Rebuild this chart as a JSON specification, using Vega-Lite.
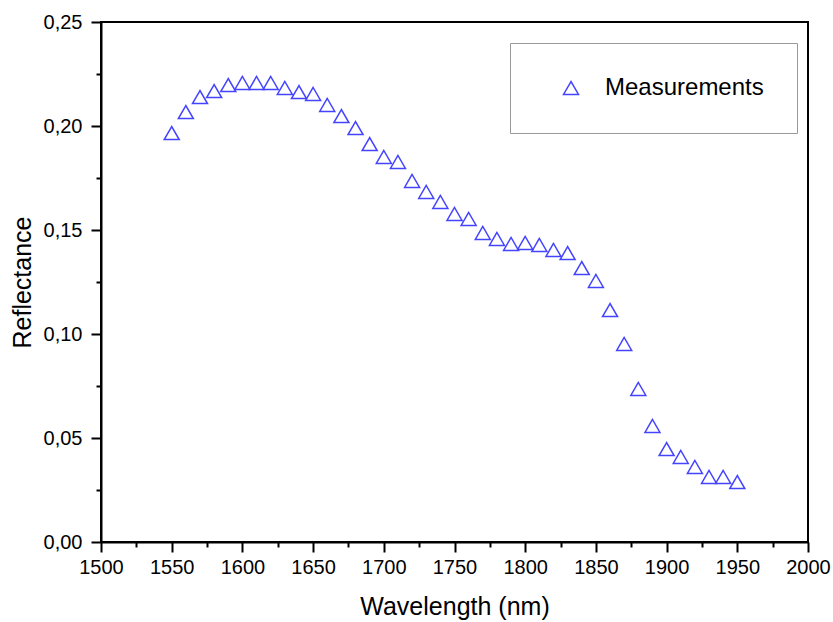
{
  "$schema": "https://vega.github.io/schema/vega-lite/v6.json",
  "width": 707,
  "height": 520,
  "autosize": {"type": "none"},
  "padding": {"left": 101, "top": 22, "right": 25, "bottom": 80},
  "background": "white",
  "config": {
    "font": "Liberation Sans",
    "view": {"stroke": "black", "strokeWidth": 2},
    "axis": {"grid": false}
  },
  "data": {
    "values": [
      {"wavelength": 1550, "reflectance": 0.1966, "series": "Measurements"},
      {"wavelength": 1560, "reflectance": 0.2067, "series": "Measurements"},
      {"wavelength": 1570, "reflectance": 0.2139, "series": "Measurements"},
      {"wavelength": 1580, "reflectance": 0.2168, "series": "Measurements"},
      {"wavelength": 1590, "reflectance": 0.2197, "series": "Measurements"},
      {"wavelength": 1600, "reflectance": 0.2207, "series": "Measurements"},
      {"wavelength": 1610, "reflectance": 0.2207, "series": "Measurements"},
      {"wavelength": 1620, "reflectance": 0.2207, "series": "Measurements"},
      {"wavelength": 1630, "reflectance": 0.2183, "series": "Measurements"},
      {"wavelength": 1640, "reflectance": 0.2163, "series": "Measurements"},
      {"wavelength": 1650, "reflectance": 0.2154, "series": "Measurements"},
      {"wavelength": 1660, "reflectance": 0.2101, "series": "Measurements"},
      {"wavelength": 1670, "reflectance": 0.2048, "series": "Measurements"},
      {"wavelength": 1680, "reflectance": 0.1990, "series": "Measurements"},
      {"wavelength": 1690, "reflectance": 0.1913, "series": "Measurements"},
      {"wavelength": 1700, "reflectance": 0.1851, "series": "Measurements"},
      {"wavelength": 1710, "reflectance": 0.1827, "series": "Measurements"},
      {"wavelength": 1720, "reflectance": 0.1736, "series": "Measurements"},
      {"wavelength": 1730, "reflectance": 0.1683, "series": "Measurements"},
      {"wavelength": 1740, "reflectance": 0.1635, "series": "Measurements"},
      {"wavelength": 1750, "reflectance": 0.1577, "series": "Measurements"},
      {"wavelength": 1760, "reflectance": 0.1553, "series": "Measurements"},
      {"wavelength": 1770, "reflectance": 0.1486, "series": "Measurements"},
      {"wavelength": 1780, "reflectance": 0.1457, "series": "Measurements"},
      {"wavelength": 1790, "reflectance": 0.1433, "series": "Measurements"},
      {"wavelength": 1800, "reflectance": 0.1438, "series": "Measurements"},
      {"wavelength": 1810, "reflectance": 0.1428, "series": "Measurements"},
      {"wavelength": 1820, "reflectance": 0.1404, "series": "Measurements"},
      {"wavelength": 1830, "reflectance": 0.1389, "series": "Measurements"},
      {"wavelength": 1840, "reflectance": 0.1317, "series": "Measurements"},
      {"wavelength": 1850, "reflectance": 0.1255, "series": "Measurements"},
      {"wavelength": 1860, "reflectance": 0.1115, "series": "Measurements"},
      {"wavelength": 1870, "reflectance": 0.0952, "series": "Measurements"},
      {"wavelength": 1880, "reflectance": 0.0736, "series": "Measurements"},
      {"wavelength": 1890, "reflectance": 0.0558, "series": "Measurements"},
      {"wavelength": 1900, "reflectance": 0.0447, "series": "Measurements"},
      {"wavelength": 1910, "reflectance": 0.0409, "series": "Measurements"},
      {"wavelength": 1920, "reflectance": 0.0361, "series": "Measurements"},
      {"wavelength": 1930, "reflectance": 0.0313, "series": "Measurements"},
      {"wavelength": 1940, "reflectance": 0.0313, "series": "Measurements"},
      {"wavelength": 1950, "reflectance": 0.0288, "series": "Measurements"}
    ]
  },
  "resolve": {"axis": {"x": "independent", "y": "independent"}},
  "layer": [
    {
      "mark": {"type": "point", "opacity": 0},
      "encoding": {
        "x": {
          "field": "wavelength", "type": "quantitative",
          "scale": {"domain": [1500, 2000], "nice": false, "zero": false},
          "axis": {
            "orient": "bottom",
            "values": [1525, 1575, 1625, 1675, 1725, 1775, 1825, 1875, 1925, 1975],
            "labels": false, "domain": false, "title": null,
            "tickSize": 5, "tickWidth": 2, "tickColor": "black"
          }
        },
        "y": {
          "field": "reflectance", "type": "quantitative",
          "scale": {"domain": [0, 0.25], "nice": false},
          "axis": {
            "orient": "left",
            "values": [0.025, 0.075, 0.125, 0.175, 0.225],
            "labels": false, "domain": false, "title": null,
            "tickSize": 5, "tickWidth": 2, "tickColor": "black"
          }
        }
      }
    },
    {
      "mark": {"type": "point", "shape": "triangle-up", "filled": false, "size": 225, "strokeWidth": 1.5, "opacity": 1},
      "encoding": {
        "x": {
          "field": "wavelength", "type": "quantitative",
          "axis": {
            "orient": "bottom",
            "values": [1500, 1550, 1600, 1650, 1700, 1750, 1800, 1850, 1900, 1950, 2000],
            "format": "d",
            "title": "Wavelength (nm)",
            "titleFontSize": 25, "titleFontWeight": "normal", "titleColor": "black", "titlePadding": 17,
            "labelFontSize": 20, "labelColor": "black", "labelPadding": 5, "labelFlush": false,
            "tickSize": 10, "tickWidth": 2, "tickColor": "black",
            "domainColor": "black", "domainWidth": 2
          }
        },
        "y": {
          "field": "reflectance", "type": "quantitative",
          "axis": {
            "orient": "left",
            "values": [0, 0.05, 0.1, 0.15, 0.2, 0.25],
            "labelExpr": "replace(format(datum.value, '.2f'), '.', ',')",
            "title": "Reflectance",
            "titleFontSize": 25, "titleFontWeight": "normal", "titleColor": "black", "titlePadding": 8,
            "labelFontSize": 20, "labelColor": "black", "labelPadding": 9, "labelFlush": false,
            "tickSize": 10, "tickWidth": 2, "tickColor": "black",
            "domainColor": "black", "domainWidth": 2
          }
        },
        "color": {
          "field": "series", "type": "nominal",
          "scale": {"domain": ["Measurements"], "range": ["#4444ff"]},
          "legend": {
            "orient": "none", "legendX": 409, "legendY": 21,
            "title": null,
            "padding": 33, "symbolOffset": 16,
            "strokeColor": "#999999",
            "symbolType": "triangle-up", "symbolSize": 225, "symbolStrokeWidth": 1.5, "symbolFillColor": "transparent",
            "labelFontSize": 24, "labelColor": "black", "labelOffset": 22
          }
        }
      }
    }
  ]
}
